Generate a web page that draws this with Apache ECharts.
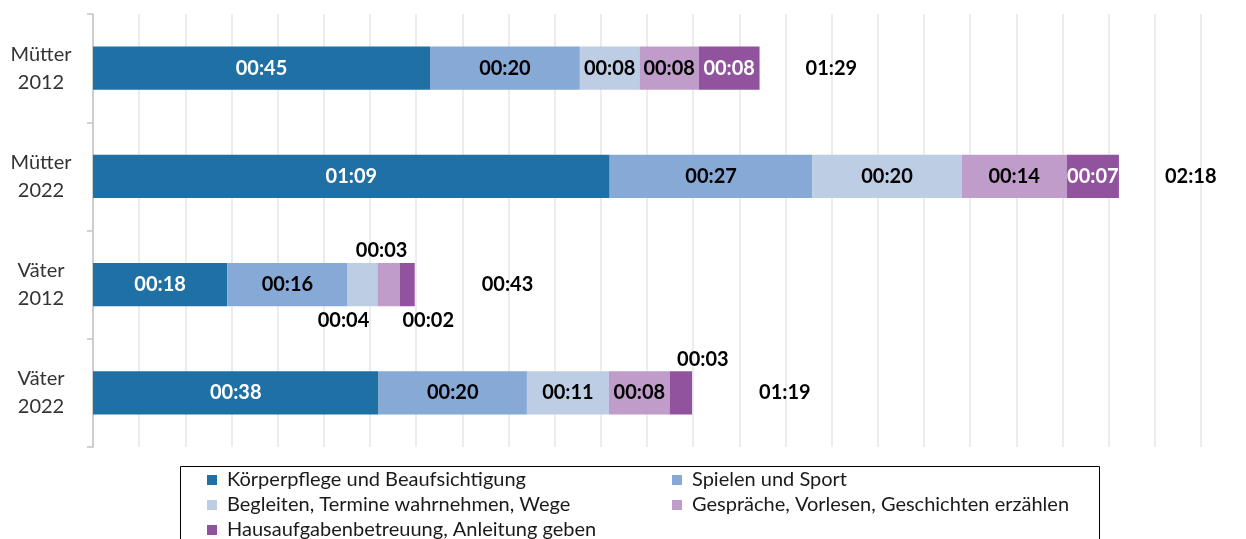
<!DOCTYPE html>
<html>
<head>
<meta charset="utf-8">
<script src="https://cdn.jsdelivr.net/npm/echarts@6/dist/echarts.min.js"></script>
<style>html,body{margin:0;padding:0;background:#fff;}#c{width:1246px;height:539px;}</style>
</head>
<body>
<div id="c"></div>
<script>
// Data (minutes per day)
const categories = ['Mütter\n2012', 'Mütter\n2022', 'Väter\n2012', 'Väter\n2022'];
const seriesNames = ['Körperpflege und Beaufsichtigung', 'Spielen und Sport', 'Begleiten, Termine wahrnehmen, Wege', 'Gespräche, Vorlesen, Geschichten erzählen', 'Hausaufgabenbetreuung, Anleitung geben'];
const koerperpflege = [45.2, 69.3, 18.0, 38.3];
const spielen = [20.1, 27.2, 16.15, 19.9];
const begleiten = [8.0, 20.0, 4.0, 11.0];
const gespraeche = [7.95, 14.1, 3.0, 8.15];
const hausaufgaben = [8.15, 7.0, 2.0, 3.0];
const totals = [89, 138, 43, 79];

const values = [koerperpflege, spielen, begleiten, gespraeche, hausaufgaben];
const colors = ['#1f70a5', '#87a9d6', '#bccde4', '#bf9cc9', '#91529e'];
const labelColors = ['#ffffff', '#000000', '#000000', '#000000', '#ffffff'];

function fmt(m) {
  const t = Math.round(m);
  const h = Math.floor(t / 60), mm = t % 60;
  return String(h).padStart(2, '0') + ':' + String(mm).padStart(2, '0');
}

// label placement overrides for narrow segments: key = series-dataIndex
const outside = {
  '2-2': { position: 'bottom', offset: [-19, 0], distance: 4 },
  '3-2': { position: 'top', offset: [-7, 0], distance: 2 },
  '4-2': { position: 'bottom', offset: [21, 0], distance: 4 },
  '4-3': { position: 'top', offset: [22, 0], distance: 2 }
};

const FONT = 'Lato';
const step = 0.0043 * 1440;

const series = values.map((arr, s) => ({
  name: seriesNames[s],
  type: 'bar',
  stack: 'total',
  barWidth: '40%',
  z: 3,
  itemStyle: { color: colors[s] },
  label: {
    show: true, position: 'inside', fontFamily: FONT, fontWeight: 'bold', fontSize: 20,
    color: labelColors[s], formatter: p => fmt(p.value)
  },
  data: arr.map((v, i) => {
    const o = outside[s + '-' + i];
    if (!o) return v;
    return { value: v, label: { position: o.position, offset: o.offset, distance: o.distance, color: '#000' } };
  })
}));

// invisible bar spanning the stacked length, carrying the total label
const stackEnds = categories.map((c, i) => values.reduce((a, arr) => a + arr[i], 0));
series.push({
  name: 'Gesamt',
  type: 'bar',
  barWidth: '40%',
  barGap: '-100%',
  z: 1,
  silent: true,
  itemStyle: { color: 'rgba(255,255,255,0)' },
  label: {
    show: true, position: 'right', distance: 0, fontFamily: FONT, fontWeight: 'bold', fontSize: 20,
    color: '#000', textBorderWidth: 0, formatter: p => fmt(totals[p.dataIndex])
  },
  data: stackEnds.map((t, i) => ({ value: t, label: { offset: [i < 2 ? 46 : 67, 0] } }))
});

const legendPos = [[207, 469], [672, 469], [207, 494], [672, 494], [207, 519]];
const legends = seriesNames.map((name, k) => ({
  data: [name], orient: 'horizontal', left: legendPos[k][0], top: legendPos[k][1],
  padding: 0, icon: 'rect', itemWidth: 10, itemHeight: 10, selectedMode: false,
  textStyle: { fontFamily: FONT, fontSize: 20, color: '#1a1a1a', lineHeight: 22, padding: [0, 0, 0, 5] }
}));

const option = {
  animation: false,
  grid: { left: 93, right: 45, top: 14, bottom: 92 },
  xAxis: {
    type: 'value', min: 0, max: step * 24, interval: step,
    axisLabel: { show: false }, axisTick: { show: false }, axisLine: { show: false },
    splitLine: { show: true, lineStyle: { color: '#e6e6e6', width: 1.5 } }
  },
  yAxis: {
    type: 'category', inverse: true, data: categories,
    axisLine: { lineStyle: { color: '#c4c4c4', width: 1.5 } },
    axisTick: { show: true, length: 6, lineStyle: { color: '#c4c4c4', width: 1.5 } },
    axisLabel: { align: 'center', margin: 52, fontFamily: FONT, fontSize: 20, lineHeight: 28, color: '#333' }
  },
  legend: legends,
  graphic: [{
    type: 'rect', z: -1, shape: { x: 180.5, y: 466.5, width: 919, height: 100 },
    style: { fill: 'none', stroke: '#000', lineWidth: 1 }
  }],
  series: series
};

const chart = echarts.init(document.getElementById('c'));
chart.setOption(option);
</script>
</body>
</html>
